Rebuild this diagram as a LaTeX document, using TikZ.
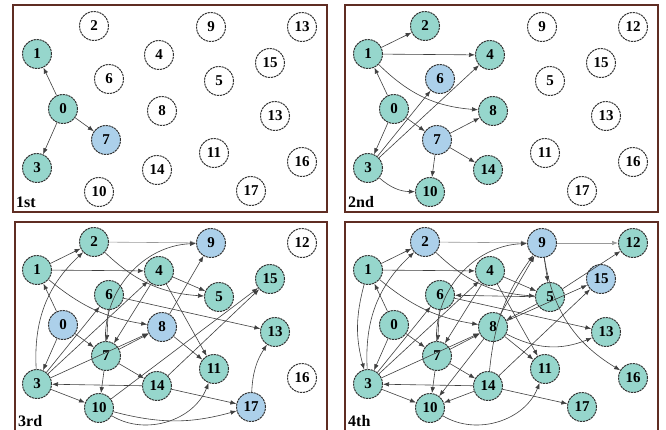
\documentclass[tikz,border=0pt]{standalone}
\usepackage{fontspec}
\setmainfont{Liberation Serif}
\usetikzlibrary{arrows.meta}
\definecolor{tl}{RGB}{150,214,204}
\definecolor{bl}{RGB}{172,208,234}
\definecolor{wh}{RGB}{255,255,255}
\definecolor{frm}{RGB}{95,45,35}
\def\XS{63,37,94,37,159,219,109,106,162,211,99,214,302,275,157,270,302,251}
\def\YS{109,54,26,168,55,81,79,140,111,27,192,153,27,116,170,63,162,191}
\newcommand\drawpanel[5]{%
 \foreach \c [count=\k from 0] in {#4} {
  \pgfmathsetmacro\px{#2+{\XS}[\k]}
  \pgfmathsetmacro\py{#3+{\YS}[\k]}
  \node[nd, fill=\c] (#1\k) at (\px,\py) {\ifnum\k=12 #5\else\k\fi};
 }}
\tikzset{
 nd/.style={circle, draw=black!80, dash pattern=on 2.2pt off 0.8pt, line width=1pt,
   minimum size=29pt, inner sep=0pt, font=\bfseries\fontsize{15}{15}\selectfont},
 ed/.style={draw=black!75, line width=0.6pt, -{Latex[length=6pt,width=4.5pt]}},
 lt/.style={ed, draw=black!40},
 frame/.style={draw=frm, line width=1.3pt, fill=white},
 plabel/.style={anchor=base west, inner sep=0pt, font=\bfseries\fontsize{16}{16}\selectfont}
}
\begin{document}
\begin{tikzpicture}[x=1pt,y=-1pt]
\useasboundingbox[fill=white] (0,0) rectangle (666,430);
% frames
\draw[frame] (13,5) rectangle (327,212);
\draw[frame] (345,5) rectangle (658,212);
\draw[frame] (15,222) rectangle (327,431);
\draw[frame] (345,222) rectangle (658,431);
% panels
\drawpanel{a}{0}{0}{tl,tl,wh,tl,wh,wh,wh,bl,wh,wh,wh,wh,wh,wh,wh,wh,wh,wh}{13}
\drawpanel{b}{331}{0}{tl,tl,tl,tl,tl,wh,bl,bl,tl,wh,tl,wh,wh,wh,tl,wh,wh,wh}{12}
\drawpanel{c}{0}{216}{bl,tl,tl,tl,tl,tl,tl,tl,bl,bl,tl,tl,wh,tl,tl,tl,wh,bl}{12}
\drawpanel{d}{331}{216}{tl,tl,bl,tl,tl,tl,tl,tl,tl,bl,tl,tl,tl,tl,tl,bl,tl,tl}{12}
\node[plabel] (la) at (16,208) {1st};
\node[plabel] (lb) at (348,208) {2nd};
\node[plabel] (lc) at (18,426) {3rd};
\node[plabel] (ld) at (348,426) {4th};
% panel 1
\draw[ed] (a0) -- (a1);
\draw[ed] (a0) -- (a7);
\draw[ed] (a0) -- (a3);
% panel 2
\draw[ed] (b0) -- (b1);
\draw[ed] (b0) -- (b7);
\draw[ed] (b0) -- (b3);
\draw[ed] (b1) -- (b2);
\draw[ed] (b1) -- (b4);
\draw[ed] (b1) to[bend right=20] (b8);
\draw[ed] (b3) -- (b6);
\draw[ed] (b3) -- (b4);
\draw[ed] (b7) -- (b8);
\draw[ed] (b7) -- (b14);
\draw[ed] (b7) -- (b10);
\draw[ed] (b3) to[bend right=20] (b10);
% panel 3
\draw[ed] (c0) -- (c1);
\draw[ed] (c0) -- (c3);
\draw[ed] (c0) -- (c7);
\draw[ed] (c1) -- (c2);
\draw[ed] (c1) -- (c4);
\draw[ed] (c1) to[bend right=15] (c8);
\draw[ed] (c2) to[bend right=20] (c5);
\draw[lt] (c2) -- (c9);
\draw[ed] (c3) to[bend left=25] (c2);
\draw[ed] (c3) -- (c4);
\draw[ed] (c3) -- (c6);
\draw[ed] (c3) -- (c8);
\draw[ed] (c4) -- (c5);
\draw[ed] (c4) -- (c7);
\draw[ed] (c4) -- (c11);
\draw[ed] (c6) -- (c7);
\draw[ed] (c6) -- (c13);
\draw[ed] (c7) -- (c8);
\draw[ed] (c7) to[bend left=45] (c9);
\draw[ed] (c7) -- (c10);
\draw[ed] (c7) -- (c14);
\draw[ed] (c8) -- (c9);
\draw[ed] (c8) -- (c11);
\draw[ed] (c14) -- (c3);
\draw[ed] (c14) -- (c15);
\draw[ed] (c10) -- (c15);
\draw[ed] (c14) -- (c17);
\draw[ed] (c3) -- (c10);
\draw[ed] (c10) to[bend right=15] (c17);
\draw[ed] (c10) to[bend right=50] (c11);
\draw[ed] (c17) to[bend left=15] (c13);
% panel 4
\draw[ed] (d0) -- (d1);
\draw[ed] (d0) -- (d3);
\draw[ed] (d0) -- (d7);
\draw[ed] (d1) -- (d2);
\draw[ed] (d1) -- (d4);
\draw[ed] (d1) to[bend right=15] (d8);
\draw[ed] (d1) to[bend right=15] (d3);
\draw[ed] (d2) to[bend right=20] (d5);
\draw[lt] (d2) -- (d9);
\draw[ed] (d3) to[bend left=25] (d2);
\draw[ed] (d3) -- (d4);
\draw[ed] (d3) -- (d6);
\draw[ed] (d3) -- (d8);
\draw[ed] (d4) -- (d5);
\draw[ed] (d4) -- (d7);
\draw[ed] (d4) -- (d11);
\draw[ed] (d6) -- (d7);
\draw[ed] (d6) -- (d13);
\draw[ed] (d5) -- (d6);
\draw[ed] (d5) -- (d8);
\draw[ed] (d5) -- (d12);
\draw[lt] (d9) -- (d12);
\draw[ed] (d9) -- (d5);
\draw[ed] (d9) to[bend right=25] (d16);
\draw[ed] (d7) -- (d8);
\draw[ed] (d7) to[bend left=45] (d9);
\draw[ed] (d7) -- (d10);
\draw[ed] (d7) -- (d14);
\draw[ed] (d8) -- (d9);
\draw[ed] (d8) -- (d11);
\draw[ed] (d8) to[bend right=25] (d13);
\draw[ed] (d8) -- (d10);
\draw[ed] (d14) -- (d3);
\draw[ed] (d14) -- (d15);
\draw[ed] (d8) -- (d15);
\draw[ed] (d14) -- (d17);
\draw[ed] (d14) -- (d10);
\draw[ed] (d14) to[bend left=15] (d9);
\draw[ed] (d3) -- (d10);
\draw[ed] (d10) to[bend right=50] (d11);
\end{tikzpicture}
\end{document}
